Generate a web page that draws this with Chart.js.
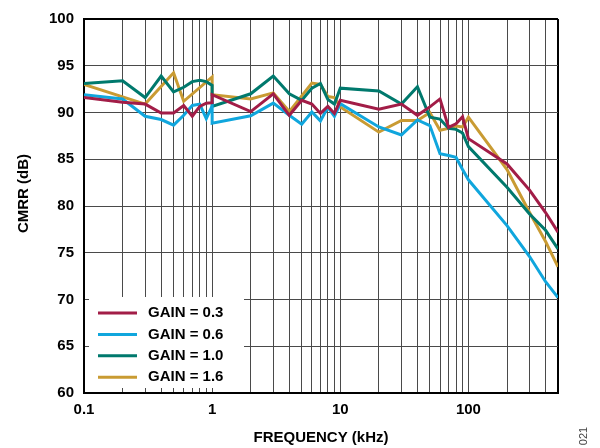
<!DOCTYPE html>
<html>
<head>
<meta charset="utf-8">
<script src="https://cdn.jsdelivr.net/npm/chart.js@4.4.1/dist/chart.umd.min.js"></script>
<style>
  html, body { margin: 0; padding: 0; background: #fff; }
  #wrap { width: 600px; height: 448px; }
</style>
</head>
<body>
<div id="wrap"><canvas id="cmrrChart" width="600" height="448"></canvas></div>
<script>
/* ================================
   Data
================================ */
// frequency in kHz, 1 kHz shows up twice (range switch in the sweep)
const FREQ = [0.1, 0.2, 0.3, 0.4, 0.5, 0.6, 0.7, 0.8, 0.9, 1, 1,
  2, 3, 4, 5, 6, 7, 8, 9, 10,
  20, 30, 40, 50, 60, 70, 80, 90, 100,
  200, 300, 400, 500];

// CMRR in dB, null = no vertex there (line just runs straight)
const GAIN_0_3 = [91.6, 91.1, 90.9, 89.95, 89.95, 90.75, 89.6, 90.65, 91.0, 91.05, 91.9,
  90.1, 92.0, 89.7, 91.3, 90.9, 89.9, 90.65, 89.9, 91.3,
  90.35, 90.9, 89.7, 90.6, 91.45, 88.4, 88.8, 89.55, 87.2,
  84.5, 81.7, 79.3, 77.2];

const GAIN_0_6 = [91.9, 91.45, 89.6, 89.25, 88.65, 89.7, 90.75, 90.9, 89.35, 90.7, 88.85,
  89.65, 91.0, 89.7, 88.75, 90.05, 89.1, 90.55, 89.6, 90.95,
  88.45, 87.6, 89.2, 88.6, 85.6, 85.4, 85.2, 83.9, 82.8,
  77.9, 74.6, 71.9, 70.2];

const GAIN_1_0 = [93.1, 93.4, 91.6, 93.9, 92.2, 92.7, 93.3, 93.45, 93.3, 92.9, 90.65,
  92.0, 93.9, 92.0, 91.3, 92.6, 93.1, 91.4, 90.9, 92.6,
  92.3, 90.9, 92.75, 89.5, 89.3, 88.3, 88.2, 87.8, 86.35,
  82.0, 79.15, 77.4, 75.4];

const GAIN_1_6 = [93.0, null, 90.9, null, 94.25, 91.2, null, null, null, 93.8, 91.9,
  91.45, 92.1, 90.1, null, 93.15, 93.0, 91.7, 91.6, 90.6,
  87.9, 89.15, 89.15, 90.0, 88.1, 88.3, 88.55, 88.45, 89.5,
  83.9, 79.3, 76.2, 73.5];

const SERIES_NAMES = ["GAIN = 0.3", "GAIN = 0.6", "GAIN = 1.0", "GAIN = 1.6"];
const SERIES_COLORS = ["#a21d47", "#10a6dd", "#00796d", "#c99b33"];

// log grid: every 1..9 per decade, labels only on decades
const X_GRID = [0.1, 0.2, 0.3, 0.4, 0.5, 0.6, 0.7, 0.8, 0.9,
  1, 2, 3, 4, 5, 6, 7, 8, 9,
  10, 20, 30, 40, 50, 60, 70, 80, 90,
  100, 200, 300, 400, 500];
const X_LABELS = [0.1, 1, 10, 100];

const FONT = "'Liberation Sans', Arial, sans-serif";
const GRID_COLOR = "#4a4a4a";

/* ================================
   Helpers
================================ */
function toPoints(values) {
  return FREQ
    .map((f, i) => ({ x: f, y: values[i] }))
    .filter(p => p.y !== null);
}

// legend box sitting inside the plot, bottom-left
const insideLegend = {
  id: "insideLegend",
  afterDatasetsDraw(chart) {
    const { ctx, chartArea } = chart;
    const left = chartArea.left;
    const boxTop = chartArea.bottom - 96;

    ctx.save();
    ctx.fillStyle = "#fff";
    ctx.fillRect(left + 5, boxTop, 155, 91);

    ctx.font = `bold 15px ${FONT}`;
    ctx.textBaseline = "middle";
    chart.data.datasets.forEach((ds, i) => {
      const y = boxTop + 16 + i * 21.4;
      ctx.strokeStyle = ds.borderColor;
      ctx.lineWidth = 3;
      ctx.beginPath();
      ctx.moveTo(left + 14, y);
      ctx.lineTo(left + 53, y);
      ctx.stroke();
      ctx.fillStyle = "#000";
      ctx.fillText(ds.label, left + 64, y);
    });
    ctx.restore();
  }
};

// small figure number at bottom right
const figNumber = {
  id: "figNumber",
  afterDraw(chart) {
    const { ctx } = chart;
    ctx.save();
    ctx.translate(584, 436);
    ctx.rotate(-Math.PI / 2);
    ctx.font = `11px ${FONT}`;
    ctx.fillStyle = "#444";
    ctx.textAlign = "center";
    ctx.textBaseline = "middle";
    ctx.fillText("021", 0, 0);
    ctx.restore();
  }
};

/* ================================
   Chart
================================ */
const datasets = [GAIN_0_3, GAIN_0_6, GAIN_1_0, GAIN_1_6].map((vals, i) => ({
  label: SERIES_NAMES[i],
  data: toPoints(vals),
  borderColor: SERIES_COLORS[i],
  backgroundColor: SERIES_COLORS[i],
  borderWidth: 3,
  pointRadius: 0,
  tension: 0,
  fill: false
}));

new Chart(document.getElementById("cmrrChart"), {
  type: "line",
  data: { datasets },
  plugins: [insideLegend, figNumber],
  options: {
    responsive: false,
    animation: false,
    layout: { padding: { left: 0, right: 42, top: 14, bottom: 0 } },
    plugins: {
      legend: { display: false },
      tooltip: { enabled: false }
    },
    scales: {
      x: {
        type: "logarithmic",
        min: 0.1,
        max: 500,
        afterBuildTicks: scale => {
          scale.ticks = X_GRID.map(v => ({ value: v }));
        },
        afterFit: scale => { scale.height = 55; },
        ticks: {
          autoSkip: false,
          maxRotation: 0,
          padding: 8,
          color: "#000",
          font: { family: FONT, size: 15, weight: "bold" },
          callback: value => (X_LABELS.includes(value) ? String(value) : "")
        },
        grid: {
          drawTicks: false,
          color: ctx => (ctx.tick && ctx.tick.value === 500 ? "#000" : GRID_COLOR),
          lineWidth: ctx => (ctx.tick && ctx.tick.value === 500 ? 2 : 1)
        },
        border: { display: true, color: "#000", width: 2 },
        title: {
          display: true,
          text: "FREQUENCY (kHz)",
          color: "#000",
          font: { family: FONT, size: 15, weight: "bold" },
          padding: { top: 0, bottom: 1 }
        }
      },
      y: {
        min: 60,
        max: 100,
        afterFit: scale => { scale.width = 84; },
        ticks: {
          stepSize: 5,
          padding: 10,
          color: "#000",
          font: { family: FONT, size: 15, weight: "bold" }
        },
        grid: {
          drawTicks: false,
          color: ctx => (ctx.tick && ctx.tick.value === 100 ? "#000" : GRID_COLOR),
          lineWidth: ctx => (ctx.tick && ctx.tick.value === 100 ? 2 : 1)
        },
        border: { display: true, color: "#000", width: 2 },
        title: {
          display: true,
          // leading spaces nudge the rotated title up like the original
          text: "      CMRR (dB)",
          color: "#000",
          font: { family: FONT, size: 15, weight: "bold" },
          padding: { top: 14.5, bottom: 0 }
        }
      }
    }
  }
});
</script>
</body>
</html>
